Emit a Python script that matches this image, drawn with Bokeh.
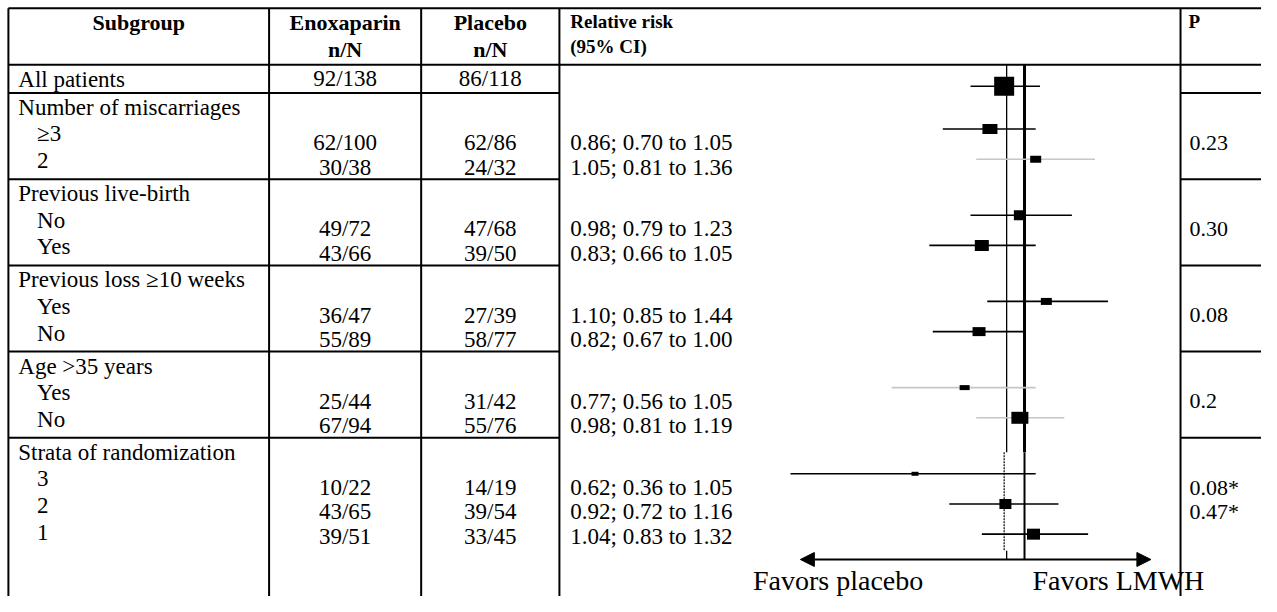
import math
from bokeh.plotting import figure
from bokeh.models import Range1d, LogScale, ColumnDataSource, Arrow, NormalHead
from bokeh.core.properties import value
from bokeh.embed import file_html
from bokeh.resources import INLINE

# ---------------- data ----------------
HEADERS = ["Subgroup", "Enoxaparin", "Placebo"]
HEADER_SUB = ["", "n/N", "n/N"]
RR_HEADER = ["Relative risk", "(95% CI)"]
P_HEADER = "P"

ALL_LABEL = "All patients"
ALL_ENOX = "92/138"
ALL_PLAC = "86/118"
ALL_RR = 0.915
ALL_LO = 0.79
ALL_HI = 1.07

GROUPS = ["Number of miscarriages", "Previous live-birth", "Previous loss \u226510 weeks",
          "Age >35 years", "Strata of randomization"]
SUB_GROUP = [0, 0, 1, 1, 2, 2, 3, 3, 4, 4, 4]
SUB_LABEL = ["\u22653", "2", "No", "Yes", "Yes", "No", "Yes", "No", "3", "2", "1"]
ENOX = ["62/100", "30/38", "49/72", "43/66", "36/47", "55/89", "25/44", "67/94", "10/22", "43/65", "39/51"]
PLAC = ["62/86", "24/32", "47/68", "39/50", "27/39", "58/77", "31/42", "55/76", "14/19", "39/54", "33/45"]
RR = [0.86, 1.05, 0.98, 0.83, 1.10, 0.82, 0.77, 0.98, 0.62, 0.92, 1.04]
LO = [0.70, 0.81, 0.79, 0.66, 0.85, 0.67, 0.56, 0.81, 0.36, 0.72, 0.83]
HI = [1.05, 1.36, 1.23, 1.05, 1.44, 1.00, 1.05, 1.19, 1.05, 1.16, 1.32]
P_VALUES = ["0.23", "", "0.30", "", "0.08", "", "0.2", "", "0.08*", "0.47*", ""]

REF_NULL = 1.0
REF_OVERALL = 0.925
REF_STRATIFIED = 0.915
ARROW_LABELS = ["Favors placebo", "Favors LMWH"]

# ---------------- layout / style ----------------
W, H = 1261, 596
X0, X1 = 0.0, 1277.0
Y0, Y1 = 0.0, 612.0
COL_X = [8, 272, 426, 566, 1195]
RIGHT = 1277
TOP = 8
HEAD_BOTTOM = 66
ALL_BOTTOM = 95
GROUP_BASE = 34.5
SUB_PITCH = 27
RR1_X = 1037.0
PX_PER_LN = 232.0
FONT = value("Liberation Serif")
GREY_ROWS = {1, 6, 7}
GREY = "#c6c6c6"
BOX_W = [15, 11, 12, 14, 11, 13, 10, 17, 7, 12, 13]
BOX_H = [10, 7, 10, 11, 7, 9, 5, 12, 4, 10, 11]
ALL_BOX = (20, 19)

rr_start = math.exp((X0 - RR1_X) / PX_PER_LN)
rr_end = math.exp((X1 - RR1_X) / PX_PER_LN)

p = figure(width=W, height=H, x_range=Range1d(X0, X1), y_range=Range1d(Y1, Y0),
           toolbar_location=None, output_backend="svg", min_border=0,
           extra_x_ranges={"rr": Range1d(rr_start, rr_end)},
           extra_x_scales={"rr": LogScale()})
p.axis.visible = False
p.grid.visible = False
p.outline_line_color = None
p.background_fill_color = "white"

# group tops
group_tops = []
t = ALL_BOTTOM
for g in range(len(GROUPS)):
    group_tops.append(t)
    n = SUB_GROUP.count(g)
    t = t + GROUP_BASE + SUB_PITCH * n

idx_in_group = []
seen = {}
for g in SUB_GROUP:
    idx_in_group.append(seen.get(g, 0))
    seen[g] = seen.get(g, 0) + 1

label_y = [group_tops[g] + 42 + 27.5 * i for g, i in zip(SUB_GROUP, idx_in_group)]
num_y = [group_tops[g] + 51 + 25 * i for g, i in zip(SUB_GROUP, idx_in_group)]
forest_y = [group_tops[g] + 37 + 31 * i for g, i in zip(SUB_GROUP, idx_in_group)]
col_c = [(COL_X[k] + COL_X[k + 1]) / 2 for k in range(3)]

# ---------------- table lines ----------------
hx0, hx1, hy = [], [], []
for y in [TOP, HEAD_BOTTOM]:
    hx0.append(COL_X[0]); hx1.append(RIGHT); hy.append(y)
for y in [ALL_BOTTOM] + group_tops[1:]:
    hx0 += [COL_X[0], COL_X[4]]; hx1 += [COL_X[3], RIGHT]; hy += [y, y]
p.segment(x0=hx0, x1=hx1, y0=hy, y1=hy, line_color="black", line_width=2)
p.segment(x0=COL_X, x1=COL_X, y0=[TOP] * len(COL_X), y1=[Y1 + 10] * len(COL_X),
          line_color="black", line_width=2)

# ---------------- texts ----------------
p.text(x=col_c, y=[23] * 3, text=HEADERS, text_font=FONT, text_font_size="22px",
       text_font_style="bold", text_align="center", text_baseline="middle")
p.text(x=col_c, y=[50] * 3, text=HEADER_SUB, text_font=FONT, text_font_size="22px",
       text_font_style="bold", text_align="center", text_baseline="middle")
p.text(x=[577, 577, 1203], y=[22, 47, 22], text=RR_HEADER + [P_HEADER], text_font=FONT,
       text_font_size="19px", text_font_style="bold", text_align="left", text_baseline="middle")

p.text(x=[18], y=[81], text=[ALL_LABEL], text_font=FONT, text_font_size="23px",
       text_align="left", text_baseline="middle")
p.text(x=col_c[1:], y=[80, 80], text=[ALL_ENOX, ALL_PLAC], text_font=FONT,
       text_font_size="23px", text_align="center", text_baseline="middle")

p.text(x=[18] * len(GROUPS), y=[gt + 15 for gt in group_tops], text=GROUPS, text_font=FONT,
       text_font_size="23px", text_align="left", text_baseline="middle")
p.text(x=[37] * len(SUB_LABEL), y=label_y, text=SUB_LABEL, text_font=FONT,
       text_font_size="23px", text_align="left", text_baseline="middle")
p.text(x=[col_c[1]] * len(ENOX), y=num_y, text=ENOX, text_font=FONT,
       text_font_size="23px", text_align="center", text_baseline="middle")
p.text(x=[col_c[2]] * len(PLAC), y=num_y, text=PLAC, text_font=FONT,
       text_font_size="23px", text_align="center", text_baseline="middle")
rr_text = [f"{r:.2f}; {l:.2f} to {h:.2f}" for r, l, h in zip(RR, LO, HI)]
p.text(x=[577] * len(rr_text), y=num_y, text=rr_text, text_font=FONT,
       text_font_size="23px", text_align="left", text_baseline="middle")
p.text(x=[1204] * len(P_VALUES), y=num_y, text=P_VALUES, text_font=FONT,
       text_font_size="22px", text_align="left", text_baseline="middle")

# ---------------- forest ----------------
split_y = group_tops[-1] + 15
arrow_y = 574
stub_y = 565
p.segment(x0=[REF_NULL], x1=[REF_NULL], y0=[HEAD_BOTTOM], y1=[split_y], x_range_name="rr",
          line_color="black", line_width=3)
p.segment(x0=[REF_NULL], x1=[REF_NULL], y0=[split_y], y1=[arrow_y], x_range_name="rr",
          line_color="black", line_width=2)
p.segment(x0=[REF_OVERALL, REF_OVERALL], x1=[REF_OVERALL, REF_OVERALL],
          y0=[HEAD_BOTTOM, stub_y], y1=[split_y, arrow_y], x_range_name="rr",
          line_color="black", line_width=1.3)
p.segment(x0=[REF_STRATIFIED], x1=[REF_STRATIFIED], y0=[split_y], y1=[stub_y],
          x_range_name="rr", line_color="black", line_width=1.2, line_dash="2 1")

ci_colors = [GREY if i in GREY_ROWS else "black" for i in range(len(RR))]
src = ColumnDataSource(dict(rr=RR, lo=LO, hi=HI, y=forest_y, c=ci_colors, w=BOX_W, h=BOX_H))
p.segment(x0="lo", x1="hi", y0="y", y1="y", source=src, x_range_name="rr",
          line_color="c", line_width=1.6)
p.rect(x="rr", y="y", width="w", height="h", width_units="screen", height_units="screen",
       source=src, x_range_name="rr", fill_color="black", line_color=None)

p.segment(x0=[ALL_LO], x1=[ALL_HI], y0=[88], y1=[88], x_range_name="rr",
          line_color="black", line_width=1.6)
p.rect(x=[ALL_RR], y=[88], width=ALL_BOX[0], height=ALL_BOX[1], width_units="screen",
       height_units="screen", x_range_name="rr", fill_color="black", line_color=None)

p.add_layout(Arrow(start=NormalHead(size=14, fill_color="black", line_color="black"),
                   end=NormalHead(size=14, fill_color="black", line_color="black"),
                   x_start=810, x_end=1165, y_start=arrow_y, y_end=arrow_y,
                   line_color="black", line_width=2))
p.text(x=[762, 1045], y=[596, 596], text=ARROW_LABELS, text_font=FONT,
       text_font_size="28px", text_align="left", text_baseline="alphabetic")

open("out.html", "w").write(file_html(p, INLINE))
